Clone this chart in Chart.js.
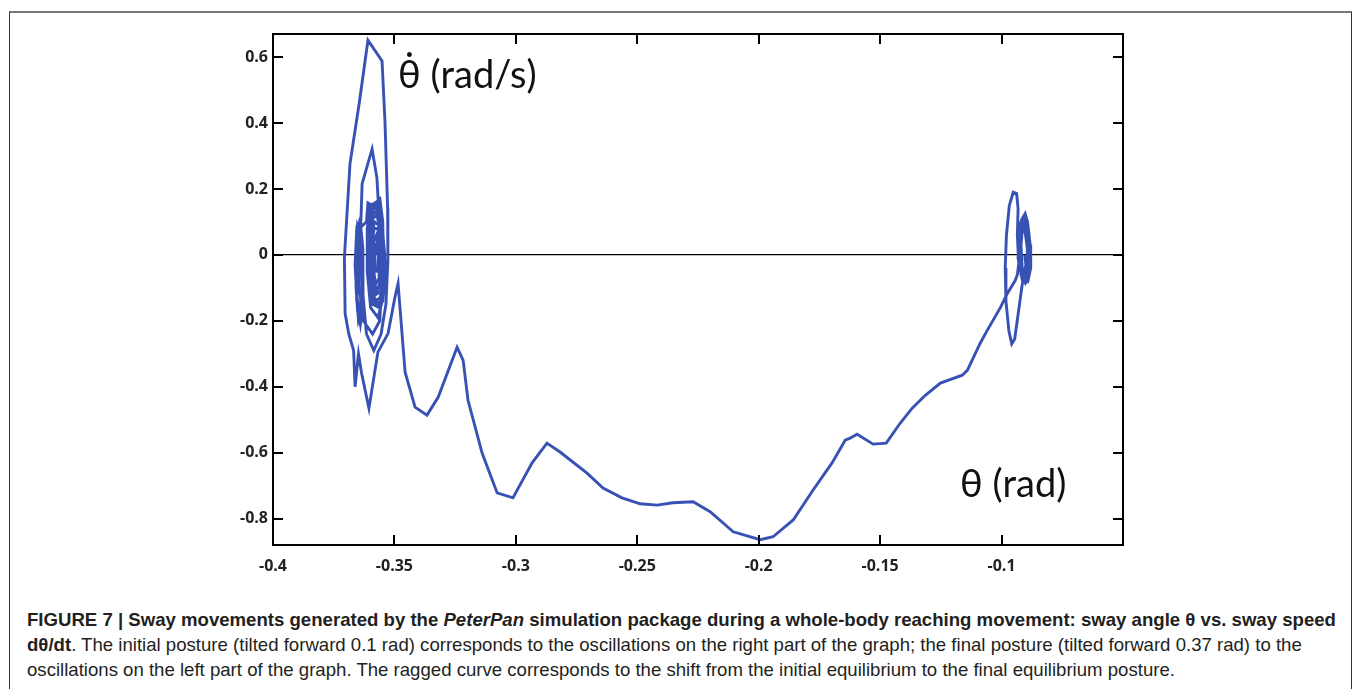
<!DOCTYPE html>
<html>
<head>
<meta charset="utf-8">
<script src="https://cdn.jsdelivr.net/npm/chart.js@4/dist/chart.umd.min.js"></script>
<style>
  body { margin: 0; background: #fff; width: 1355px; height: 689px; overflow: hidden; position: relative; }
  #frame { position: absolute; left: 9px; top: 11px; width: 1341px; height: 700px; border: 1px solid #333; border-top: 2px solid #777; }
  #chart-box { position: absolute; left: 0; top: 0; width: 1355px; height: 600px; }
  .label { position: absolute; font-family: Lato, "Open Sans", sans-serif; color: #111; white-space: nowrap; }
  #caption { position: absolute; left: 27px; top: 607px; font-family: "Liberation Sans", Arial, sans-serif; font-size: 18.6px; line-height: 25px; color: #231f20; white-space: nowrap; }
</style>
</head>
<body>
<div id="frame"></div>
<div id="chart-box"><canvas id="chart"></canvas></div>
<div class="label" id="speed-label" style="left:398px; top:50px; font-size:38px;">&#952;&#775; (rad/s)</div>
<div class="label" id="angle-label" style="left:960px; top:459px; font-size:38px;">&#952; (rad)</div>
<div id="caption">
  <b>FIGURE 7 | Sway movements generated by the <i>PeterPan</i> simulation package during a whole-body reaching movement: sway angle &#952; vs. sway speed</b><br>
  <b>d&#952;/dt</b>. The initial posture (tilted forward 0.1 rad) corresponds to the oscillations on the right part of the graph; the final posture (tilted forward 0.37 rad) to the<br>
  oscillations on the left part of the graph. The ragged curve corresponds to the shift from the initial equilibrium to the final equilibrium posture.
</div>
<script>
// Tick values
var x_ticks = [-0.4, -0.35, -0.3, -0.25, -0.2, -0.15, -0.1];
var y_ticks = [0.6, 0.4, 0.2, 0, -0.2, -0.4, -0.6, -0.8];

// [theta, dtheta/dt] - oscillations around the initial posture (right side)
var right_cluster = [
    [-0.0905, 0.00], [-0.0898, -0.04], [-0.0903, -0.07], [-0.0915, -0.04], [-0.0920, 0.03],
    [-0.0914, 0.08], [-0.0903, 0.07], [-0.0894, 0.02], [-0.0893, -0.05], [-0.0905, -0.08],
    [-0.0922, -0.05], [-0.0928, 0.04], [-0.0920, 0.10], [-0.0906, 0.10], [-0.0890, 0.04],
    [-0.0886, -0.03], [-0.0896, -0.08], [-0.0915, -0.075], [-0.0932, -0.01], [-0.0930, 0.08],
    [-0.0915, 0.11], [-0.0903, 0.125], [-0.0893, 0.10], [-0.0882, 0.03], [-0.0880, -0.04],
    [-0.0892, -0.08], [-0.0912, -0.07], [-0.0926, -0.02], [-0.0924, 0.06], [-0.0910, 0.10],
    [-0.0896, 0.08], [-0.0886, 0.01], [-0.0888, -0.06], [-0.0902, -0.085], [-0.0920, -0.06],
    [-0.0929, 0.01], [-0.0922, 0.09], [-0.0908, 0.115], [-0.0895, 0.09], [-0.0884, 0.02],
    [-0.0884, -0.05], [-0.0898, -0.08], [-0.0916, -0.065], [-0.0930, -0.02], [-0.0935, 0.06],
    [-0.0932, 0.14], [-0.0938, 0.186], [-0.0952, 0.19], [-0.0968, 0.15], [-0.0980, 0.06],
    [-0.0985, -0.04], [-0.0982, -0.14], [-0.0970, -0.23], [-0.0958, -0.27], [-0.0946, -0.255],
    [-0.0930, -0.17], [-0.0915, -0.09], [-0.0900, -0.03], [-0.0890, 0.03], [-0.0893, 0.09],
    [-0.0905, 0.10], [-0.0918, 0.06], [-0.0928, -0.02], [-0.0935, -0.06], [-0.0944, -0.078]
];

// Ragged shift from the initial to the final posture
var shift_curve = [
    [-0.0977, -0.118], [-0.1005, -0.160], [-0.1059, -0.229], [-0.1088, -0.268], [-0.1141, -0.350],
    [-0.1162, -0.365], [-0.1252, -0.389], [-0.1314, -0.426], [-0.1368, -0.465], [-0.1417, -0.510],
    [-0.1475, -0.571], [-0.1529, -0.574], [-0.1595, -0.544], [-0.1624, -0.556], [-0.1644, -0.562],
    [-0.1698, -0.631], [-0.1776, -0.713], [-0.1858, -0.804], [-0.1941, -0.855], [-0.1994, -0.864],
    [-0.2105, -0.840], [-0.2200, -0.779], [-0.2270, -0.749], [-0.2353, -0.752], [-0.2418, -0.759],
    [-0.2488, -0.755], [-0.2563, -0.737], [-0.2641, -0.707], [-0.2707, -0.662], [-0.2818, -0.598],
    [-0.2872, -0.571], [-0.2933, -0.631], [-0.3012, -0.737], [-0.3077, -0.722], [-0.3139, -0.601],
    [-0.3197, -0.441], [-0.3217, -0.320], [-0.3242, -0.280], [-0.3320, -0.432], [-0.3366, -0.486],
    [-0.3415, -0.462], [-0.3456, -0.356], [-0.3485, -0.087], [-0.3498, -0.129], [-0.3526, -0.238],
    [-0.3568, -0.295]
];

// Overshoot and oscillations around the final posture (left side)
var left_cluster = [
    [-0.3605, -0.465], [-0.3635, -0.36], [-0.3648, -0.30], [-0.3662, -0.40], [-0.3668, -0.29],
    [-0.3688, -0.24], [-0.3703, -0.178], [-0.3706, -0.008], [-0.3697, 0.104], [-0.3683, 0.276],
    [-0.3645, 0.46], [-0.3609, 0.651], [-0.3551, 0.588], [-0.3539, 0.406], [-0.3528, 0.143],
    [-0.3527, -0.02], [-0.3535, -0.15], [-0.3555, -0.24], [-0.3585, -0.29], [-0.3615, -0.24],
    [-0.3632, -0.10], [-0.3640, 0.06], [-0.3633, 0.216], [-0.3592, 0.321], [-0.3572, 0.233],
    [-0.3560, 0.073], [-0.3553, -0.078], [-0.3560, -0.20], [-0.3590, -0.24], [-0.3628, -0.20],
    [-0.3645, -0.10], [-0.3648, 0.05], [-0.3640, 0.095], [-0.3630, 0.02], [-0.3629, -0.15],
    [-0.3640, -0.21], [-0.3655, -0.14], [-0.3660, 0.00], [-0.3652, 0.09], [-0.3636, 0.06],
    [-0.3631, -0.08], [-0.3636, -0.19], [-0.3652, -0.17], [-0.3662, -0.03], [-0.3655, 0.08],
    [-0.3640, 0.07], [-0.3632, -0.05], [-0.3634, -0.17], [-0.3648, -0.20], [-0.3658, -0.10],
    [-0.3658, 0.04], [-0.3646, 0.09], [-0.3634, 0.03], [-0.3630, -0.10], [-0.3640, -0.18],
    [-0.3654, -0.13], [-0.3657, 0.02], [-0.3644, 0.08], [-0.3615, 0.10], [-0.3609, 0.158],
    [-0.3590, 0.15], [-0.3560, 0.17], [-0.3548, 0.10], [-0.3545, -0.04], [-0.3550, -0.14],
    [-0.3568, -0.19], [-0.3598, -0.16], [-0.3612, -0.05], [-0.3612, 0.08], [-0.3598, 0.15],
    [-0.3575, 0.16], [-0.3555, 0.12], [-0.3540, 0.00], [-0.3545, -0.12], [-0.3562, -0.16],
    [-0.3590, -0.15], [-0.3608, -0.06], [-0.3607, 0.07], [-0.3590, 0.14], [-0.3568, 0.14],
    [-0.3550, 0.09], [-0.3538, -0.03], [-0.3548, -0.14], [-0.3575, -0.15], [-0.3600, -0.10],
    [-0.3606, 0.02], [-0.3598, 0.12], [-0.3580, 0.15], [-0.3560, 0.10], [-0.3546, 0.02],
    [-0.3543, -0.10], [-0.3558, -0.15], [-0.3585, -0.13], [-0.3603, -0.04], [-0.3600, 0.08],
    [-0.3585, 0.13], [-0.3565, 0.12], [-0.3551, 0.05], [-0.3548, -0.06], [-0.3558, -0.13],
    [-0.3580, -0.14], [-0.3598, -0.07], [-0.3600, 0.04], [-0.3590, 0.11], [-0.3572, 0.12],
    [-0.3557, 0.07], [-0.3550, -0.03], [-0.3557, -0.11], [-0.3576, -0.12], [-0.3594, -0.06],
    [-0.3596, 0.05], [-0.3582, 0.10], [-0.3565, 0.09], [-0.3556, 0.02], [-0.3558, -0.08],
    [-0.3572, -0.11], [-0.3590, -0.07], [-0.3594, 0.02], [-0.3584, 0.08], [-0.3568, 0.08],
    [-0.3560, 0.01], [-0.3563, -0.07], [-0.3578, -0.09], [-0.3588, -0.03], [-0.3586, 0.04],
    [-0.3574, 0.06], [-0.3566, 0.01], [-0.3569, -0.05], [-0.3580, -0.05], [-0.3582, 0.01],
    [-0.3575, 0.03], [-0.3572, 0.00]
];


// Join the three parts into one trajectory
function build_points() {
    var points = [];
    [right_cluster, shift_curve, left_cluster].forEach(part => {
        part.forEach(item => {
            points.push({x: item[0], y: item[1]});
        });
    });
    return points;
}


// Frame and inward ticks like the original plot
const frame_plugin = {
    id: 'frame_plugin',
    afterDraw(chart) {
        const ctx = chart.ctx;
        const area = chart.chartArea;
        const xs = chart.scales.x;
        const ys = chart.scales.y;
        ctx.save();
        ctx.strokeStyle = '#000';
        ctx.lineWidth = 2;
        ctx.strokeRect(area.left, area.top, area.right - area.left, area.bottom - area.top);
        ctx.beginPath();
        x_ticks.forEach(v => {
            if (v === x_ticks[0]) return;
            const px = Math.round(xs.getPixelForValue(v));
            ctx.moveTo(px, area.bottom);
            ctx.lineTo(px, area.bottom - 10);
            ctx.moveTo(px, area.top);
            ctx.lineTo(px, area.top + 10);
        });
        y_ticks.forEach(v => {
            const py = Math.round(ys.getPixelForValue(v));
            ctx.moveTo(area.left, py);
            ctx.lineTo(area.left + 10, py);
            ctx.moveTo(area.right, py);
            ctx.lineTo(area.right - 10, py);
        });
        ctx.stroke();
        ctx.restore();
    }
};


document.addEventListener('DOMContentLoaded', () => {

    const ctx = document.getElementById('chart');
    const tick_font = {family: 'Open Sans', size: 16, weight: 'bold'};

    new Chart(ctx, {
        type: 'scatter',
        data: {
            datasets: [
                {
                    data: build_points(),
                    showLine: true,
                    borderColor: '#3752b4',
                    borderWidth: 2.9,
                    pointRadius: 0,
                    tension: 0
                }
            ]
        },
        options: {
            responsive: true,
            maintainAspectRatio: false,
            animation: false,
            events: [],
            layout: {
                padding: {left: 213, right: 232, top: 34, bottom: 25}
            },
            plugins: {
                legend: {display: false},
                tooltip: {enabled: false}
            },
            scales: {
                x: {
                    type: 'linear',
                    min: -0.4,
                    max: -0.05,
                    afterBuildTicks: scale => {
                        scale.ticks = x_ticks.map(v => ({value: v}));
                    },
                    afterFit: scale => {
                        scale.height = 30;
                    },
                    ticks: {
                        padding: 4,
                        color: '#222',
                        font: tick_font,
                        callback: value => `${Math.round(value * 100) / 100}`
                    },
                    grid: {display: false},
                    border: {display: false}
                },
                y: {
                    type: 'linear',
                    min: -0.88,
                    max: 0.67,
                    afterBuildTicks: scale => {
                        scale.ticks = y_ticks.map(v => ({value: v}));
                    },
                    afterFit: scale => {
                        scale.width = 60;
                    },
                    ticks: {
                        padding: 5,
                        color: '#222',
                        font: tick_font,
                        callback: value => `${Math.round(value * 10) / 10}`
                    },
                    grid: {
                        drawTicks: false,
                        lineWidth: 1.3,
                        color: c => (c.tick && c.tick.value === 0) ? '#000' : 'rgba(0,0,0,0)'
                    },
                    border: {display: false}
                }
            }
        },
        plugins: [frame_plugin]
    });
});
</script>
</body>
</html>
